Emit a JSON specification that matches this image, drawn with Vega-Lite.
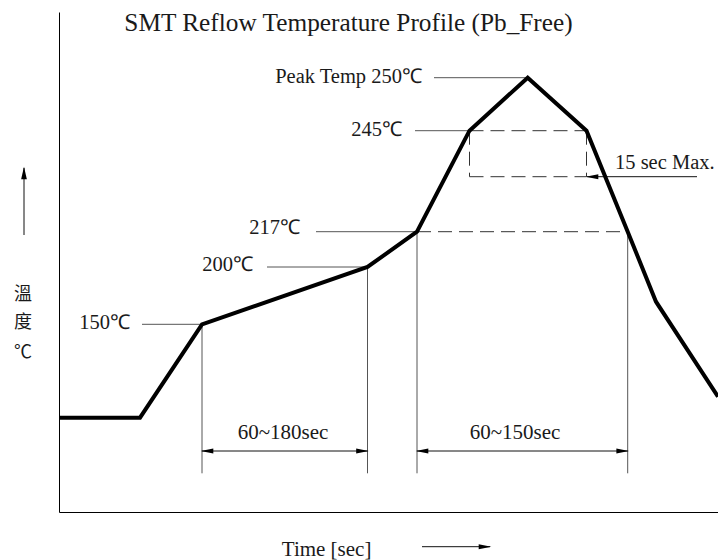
{
  "$schema": "https://vega.github.io/schema/vega-lite/v6.json",
  "width": 659,
  "height": 500,
  "autosize": "none",
  "padding": {"left": 59, "top": 12, "right": 0, "bottom": 48},
  "background": "white",
  "config": {"view": {"stroke": null}},
  "datasets": {
    "profile": [
      {"i": 0, "t": 0, "h": 94.3},
      {"i": 1, "t": 81, "h": 94.3},
      {"i": 2, "t": 143, "h": 187.7},
      {"i": 3, "t": 308.5, "h": 245},
      {"i": 4, "t": 358, "h": 280.3},
      {"i": 5, "t": 410.5, "h": 381.3},
      {"i": 6, "t": 468.7, "h": 434.3},
      {"i": 7, "t": 527.5, "h": 381.3},
      {"i": 8, "t": 568.7, "h": 280.3},
      {"i": 9, "t": 597, "h": 210.3},
      {"i": 10, "t": 659, "h": 115.3}
    ],
    "leaders": [
      {"t": 375, "h": 434.3, "t2": 468.7, "h2": 434.3},
      {"t": 356, "h": 381.3, "t2": 410.5, "h2": 381.3},
      {"t": 257, "h": 280.3, "t2": 358, "h2": 280.3},
      {"t": 208, "h": 245, "t2": 308.5, "h2": 245},
      {"t": 83, "h": 187.7, "t2": 143, "h2": 187.7},
      {"t": 143, "h": 187.7, "t2": 143, "h2": 38.7},
      {"t": 308.5, "h": 245, "t2": 308.5, "h2": 38.7},
      {"t": 358, "h": 280.3, "t2": 358, "h2": 38.7},
      {"t": 568.7, "h": 280.3, "t2": 568.7, "h2": 38.7}
    ],
    "dashed": [
      {"t": 358, "h": 280.3, "t2": 568.7, "h2": 280.3},
      {"t": 410.5, "h": 381.3, "t2": 527.5, "h2": 381.3},
      {"t": 410.5, "h": 335.3, "t2": 527.5, "h2": 335.3},
      {"t": 410.5, "h": 381.3, "t2": 410.5, "h2": 335.3},
      {"t": 527.5, "h": 381.3, "t2": 527.5, "h2": 335.3}
    ],
    "shafts": [
      {"t": 143, "h": 61, "t2": 308.5, "h2": 61},
      {"t": 358, "h": 61, "t2": 568.7, "h2": 61},
      {"t": 528, "h": 335.3, "t2": 638, "h2": 335.3},
      {"t": -35, "h": 277, "t2": -35, "h2": 344},
      {"t": 363, "h": -34.7, "t2": 431, "h2": -34.7}
    ],
    "heads": [
      {"t": 148, "h": 61, "dir": "left"},
      {"t": 363, "h": 61, "dir": "left"},
      {"t": 533, "h": 335.3, "dir": "left"},
      {"t": 303.5, "h": 61, "dir": "right"},
      {"t": 563.7, "h": 61, "dir": "right"},
      {"t": 426, "h": -34.7, "dir": "right"},
      {"t": -35, "h": 339, "dir": "up"}
    ],
    "labels": [
      {"t": 363, "h": 435, "text": "Peak Temp 250℃", "pos": "right"},
      {"t": 343, "h": 382, "text": "245℃", "pos": "right"},
      {"t": 241, "h": 284, "text": "217℃", "pos": "right"},
      {"t": 194, "h": 247, "text": "200℃", "pos": "right"},
      {"t": 71, "h": 189, "text": "150℃", "pos": "right"},
      {"t": 224, "h": 79, "text": "60~180sec", "pos": "center"},
      {"t": 456, "h": 79, "text": "60~150sec", "pos": "center"},
      {"t": 267.6, "h": -38, "text": "Time [sec]", "pos": "center"},
      {"t": 556, "h": 349, "text": "15 sec Max.", "pos": "left"}
    ],
    "ylabel": [
      {"t": -36, "h": 217, "text": "溫"},
      {"t": -36, "h": 189, "text": "度"},
      {"t": -36, "h": 159, "text": "℃"}
    ],
    "title": [
      {"t": 289.5, "h": 489, "text": "SMT Reflow Temperature Profile (Pb_Free)"}
    ]
  },
  "encoding": {
    "x": {"field": "t", "type": "quantitative", "scale": {"domain": [0, 659], "nice": false, "zero": false},
          "axis": {"ticks": false, "labels": false, "grid": false, "title": null, "domainColor": "black", "domainWidth": 1}},
    "y": {"field": "h", "type": "quantitative", "scale": {"domain": [0, 500], "nice": false, "zero": false},
          "axis": {"ticks": false, "labels": false, "grid": false, "title": null, "domainColor": "black", "domainWidth": 1}}
  },
  "layer": [
    {
      "data": {"name": "leaders"},
      "mark": {"type": "rule", "color": "#555555", "strokeWidth": 1},
      "encoding": {"x2": {"field": "t2"}, "y2": {"field": "h2"}}
    },
    {
      "data": {"name": "dashed"},
      "mark": {"type": "rule", "color": "#333333", "strokeWidth": 1, "strokeDash": [14, 7]},
      "encoding": {"x2": {"field": "t2"}, "y2": {"field": "h2"}}
    },
    {
      "data": {"name": "shafts"},
      "mark": {"type": "rule", "color": "#111111", "strokeWidth": 1},
      "encoding": {"x2": {"field": "t2"}, "y2": {"field": "h2"}}
    },
    {
      "data": {"name": "profile"},
      "mark": {"type": "line", "color": "black", "strokeWidth": 4, "strokeJoin": "miter"},
      "encoding": {"order": {"field": "i", "type": "quantitative"}}
    },
    {
      "data": {"name": "heads"},
      "transform": [{"filter": "datum.dir == 'left'"}],
      "mark": {"type": "point", "filled": true, "color": "black", "opacity": 1, "size": 160, "shape": "M -1 0 L 1 -0.4 L 1 0.4 Z"}
    },
    {
      "data": {"name": "heads"},
      "transform": [{"filter": "datum.dir == 'right'"}],
      "mark": {"type": "point", "filled": true, "color": "black", "opacity": 1, "size": 160, "shape": "M 1 0 L -1 -0.4 L -1 0.4 Z"}
    },
    {
      "data": {"name": "heads"},
      "transform": [{"filter": "datum.dir == 'up'"}],
      "mark": {"type": "point", "filled": true, "color": "black", "opacity": 1, "size": 160, "shape": "M 0 -1 L -0.45 1 L 0.45 1 Z"}
    },
    {
      "data": {"name": "labels"},
      "transform": [{"filter": "datum.pos == 'right'"}],
      "mark": {"type": "text", "align": "right", "baseline": "middle", "font": "Liberation Serif", "fontSize": 20.5, "color": "#1a1a1a"},
      "encoding": {"text": {"field": "text"}}
    },
    {
      "data": {"name": "labels"},
      "transform": [{"filter": "datum.pos == 'center'"}],
      "mark": {"type": "text", "align": "center", "baseline": "middle", "font": "Liberation Serif", "fontSize": 21, "color": "#1a1a1a"},
      "encoding": {"text": {"field": "text"}}
    },
    {
      "data": {"name": "labels"},
      "transform": [{"filter": "datum.pos == 'left'"}],
      "mark": {"type": "text", "align": "left", "baseline": "middle", "font": "Liberation Serif", "fontSize": 20.5, "color": "#1a1a1a"},
      "encoding": {"text": {"field": "text"}}
    },
    {
      "data": {"name": "ylabel"},
      "mark": {"type": "text", "align": "center", "baseline": "middle", "font": "Noto Sans CJK TC", "fontSize": 18, "color": "#1a1a1a"},
      "encoding": {"text": {"field": "text"}}
    },
    {
      "data": {"name": "title"},
      "mark": {"type": "text", "align": "center", "baseline": "middle", "font": "Liberation Serif", "fontSize": 25.3, "color": "#1a1a1a"},
      "encoding": {"text": {"field": "text"}}
    }
  ]
}
